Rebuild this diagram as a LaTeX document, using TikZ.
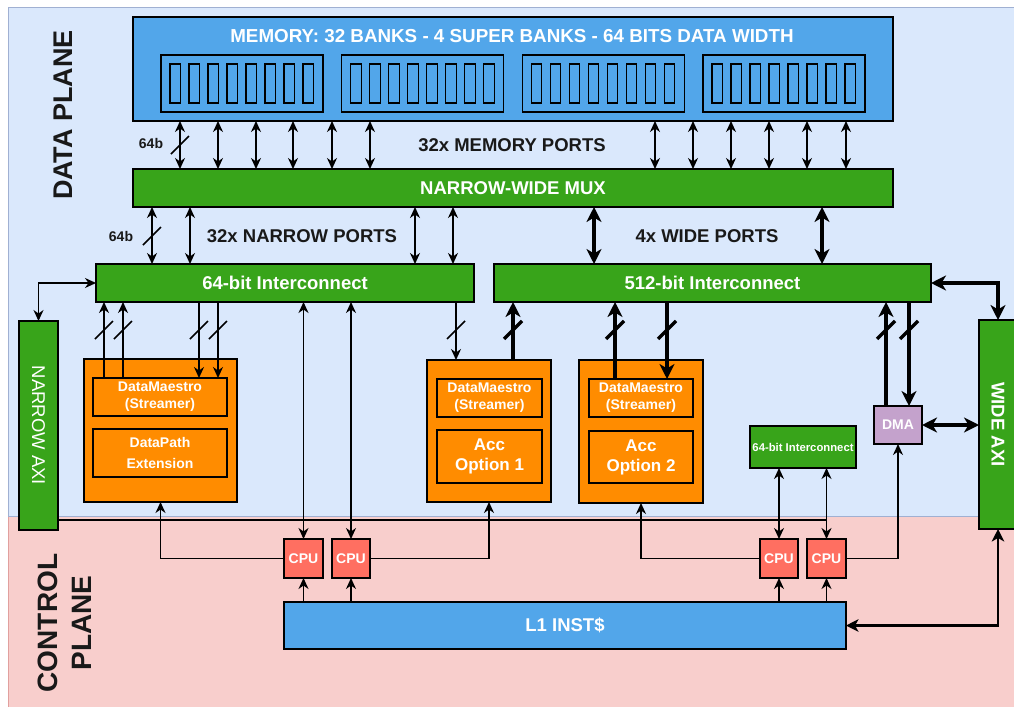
\documentclass[tikz,border=0pt]{standalone}
\usepackage{fontspec}
\setmainfont{Liberation Sans}
\usetikzlibrary{arrows.meta}
\definecolor{memblue}{RGB}{82,166,234}
\definecolor{dgreen}{RGB}{56,164,26}
\definecolor{accorange}{RGB}{255,140,0}
\definecolor{cpured}{RGB}{255,111,97}
\definecolor{dmapurple}{RGB}{196,162,204}
\definecolor{dpbg}{RGB}{218,232,252}
\definecolor{cpbg}{RGB}{248,206,204}
\definecolor{dpline}{RGB}{160,176,210}
\definecolor{cpline}{RGB}{225,160,158}
\newcommand\drbox[7]{\node[#2, minimum width={#5-#3}, minimum height={#6-#4}] (#1) at ({(#3+#5)/2},{(#4+#6)/2}) {#7};}
\newcommand\slashmark[3]{\draw[line width=#1] ({#2-9},{#3+9}) -- ({#2+9},{#3-9});}
\tikzset{
  thinhead/.tip={Stealth[length=11pt,width=10pt,inset=3.5pt]},
  thickhead/.tip={Stealth[length=15pt,width=15pt,inset=4.5pt]},
  medhead/.tip={Stealth[length=12.5pt,width=12.5pt,inset=3.5pt]},
}
\begin{document}
\begin{tikzpicture}[x=1pt,y=-1pt,
  box/.style={draw=black, line width=1.5pt, inner sep=0pt, outer sep=0pt, align=center, text=white, font=\bfseries\fontsize{18.5}{21}\selectfont},
  gbox/.style={box, fill=dgreen},
  obox/.style={box, fill=accorange},
  sbox/.style={box, fill=accorange, font=\bfseries\fontsize{14}{17}\selectfont},
  cbox/.style={box, fill=cpured, font=\bfseries\fontsize{14}{17}\selectfont},
  lbl/.style={inner sep=0pt, text=black!90, font=\bfseries\fontsize{18.5}{21}\selectfont},
  slbl/.style={inner sep=0pt, text=black!90, font=\bfseries\fontsize{14}{16}\selectfont},
  arrTT/.style={line width=1.5pt, thinhead-thinhead},
  arrT/.style={line width=1.5pt, -thinhead},
  arrKK/.style={line width=3.8pt, thickhead-thickhead},
  arrK/.style={line width=3.8pt, -thickhead},
  arrMM/.style={line width=2.2pt, medhead-medhead},
]
\useasboundingbox (0,0) rectangle (1014,707);
% planes
\fill[dpbg] (8,7) rectangle (1014,516);
\fill[cpbg] (8,516) rectangle (1014,707);
\draw[dpline, line width=0.8pt] (1014,7) -- (8,7) -- (8,516) -- (1014,516);
\draw[cpline, line width=0.8pt] (8,517) -- (8,707);

\node[rotate=90, inner sep=0pt, text=black!90, font=\bfseries\fontsize{27}{30}\selectfont] (dplabel) at (63.5,115) {DATA PLANE};
\node[rotate=90, inner sep=0pt, align=center, text=black!90, font=\bfseries\fontsize{28}{34.5}\selectfont] (cplabel) at (64.5,623) {CONTROL\\PLANE};

% memory
\drbox{mem}{box, fill=memblue}{133}{17}{893}{121}{}
\node[inner sep=0pt, text=white, font=\bfseries\fontsize{18.8}{21}\selectfont] (memtitle) at (512,36) {MEMORY: 32 BANKS - 4 SUPER BANKS - 64 BITS DATA WIDTH};
\foreach \i in {0,...,3} {
  \pgfmathsetmacro\sx{161+180.67*\i}
  \draw[line width=1.3pt] (\sx,55) rectangle ({\sx+162},112);
  \foreach \j in {0,...,7} {
    \draw[line width=1.2pt] ({\sx+9+19*\j},64) rectangle ++(10.5,39);
  }
}

% mux and interconnects
\drbox{mux}{gbox}{133}{169}{893}{207}{NARROW-WIDE MUX}
\drbox{icA}{gbox}{96}{264}{474}{302}{64-bit Interconnect}
\drbox{icB}{gbox}{494}{264}{931}{302}{512-bit Interconnect}
\drbox{naxi}{gbox}{19}{321}{58}{530}{\rotatebox{-90}{\mdseries NARROW AXI}}
\drbox{waxi}{gbox}{979}{320}{1017}{529}{\rotatebox{-90}{WIDE AXI}}

% accelerators
\drbox{accA}{obox}{84}{359}{237}{502}{}
\drbox{dmA}{sbox}{93}{378}{227}{416}{DataMaestro\\(Streamer)}
\drbox{dpA}{sbox, font=\bfseries\fontsize{14}{21}\selectfont}{93}{429}{227}{477}{DataPath\\Extension}
\drbox{accB}{obox}{427}{360}{551}{502}{}
\drbox{dmB}{sbox}{437}{379}{542}{417}{DataMaestro\\(Streamer)}
\drbox{opB}{obox, font=\bfseries\fontsize{17}{20}\selectfont}{437}{430}{542}{483}{Acc\\Option 1}
\drbox{accC}{obox}{579}{360}{703}{503}{}
\drbox{dmC}{sbox}{589}{379}{693}{417}{DataMaestro\\(Streamer)}
\drbox{opC}{obox, font=\bfseries\fontsize{17}{20}\selectfont}{589}{431}{693}{483}{Acc\\Option 2}

\drbox{icS}{gbox, font=\bfseries\fontsize{11.3}{13}\selectfont}{750}{426}{856}{468}{64-bit Interconnect}
\drbox{dma}{box, fill=dmapurple, font=\bfseries\fontsize{14}{17}\selectfont}{874}{406}{922}{444}{DMA}

% control plane
\drbox{cpuA}{cbox}{284}{539}{323}{578}{CPU}
\drbox{cpuB}{cbox}{332}{539}{370}{578}{CPU}
\drbox{cpuC}{cbox}{760}{539}{798}{578}{CPU}
\drbox{cpuD}{cbox}{807}{539}{846}{578}{CPU}
\drbox{lone}{box, fill=memblue}{284}{602}{846}{649}{L1 INST\$}

% labels
\node[lbl] (lmp) at (512,145) {32x MEMORY PORTS};
\node[slbl] (l64a) at (151,143) {64b};
\node[slbl] (l64b) at (121,236) {64b};
\node[lbl] (lnp) at (302,236) {32x NARROW PORTS};
\node[lbl] (lwp) at (707,236) {4x WIDE PORTS};

% memory ports
\foreach \x in {180,218,256,293,332,370,655,693,731,769,807,846}
  \draw[arrTT] (mem.south -| \x,0) -- (mux.north -| \x,0);
\slashmark{1.5pt}{180}{145}
% narrow ports
\foreach \x in {152,190,415,453}
  \draw[arrTT] (mux.south -| \x,0) -- (icA.north -| \x,0);
\slashmark{1.5pt}{152}{236}
% wide ports
\foreach \x in {594,822}
  \draw[arrKK] (mux.south -| \x,0) -- (icB.north -| \x,0);

% narrow axi / wide axi links
\draw[arrTT] (icA.west) -| (naxi.north);
\draw[arrKK] (icB.east) -| (waxi.north);

% left accelerator
\foreach \x in {104,123} {
  \draw[arrT] (dmA.north -| \x,0) -- (icA.south -| \x,0);
  \slashmark{1.5pt}{\x}{330}
}
\foreach \x in {199,218} {
  \draw[arrT] (icA.south -| \x,0) -- (dmA.north -| \x,0);
  \slashmark{1.5pt}{\x}{330}
}
% acc option 1
\draw[arrT] (icA.south -| 456,0) -- (accB.north -| 456,0);
\slashmark{1.5pt}{456}{330}
\draw[arrK] (accB.north -| 513,0) -- (icB.south -| 513,0);
\slashmark{3.5pt}{513}{330}
% acc option 2
\draw[arrK] (dmC.north -| 615,0) -- (icB.south -| 615,0);
\slashmark{3.5pt}{615}{330}
\draw[arrK] (icB.south -| 667,0) -- (dmC.north -| 667,0);
\slashmark{3.5pt}{667}{330}
% dma
\draw[arrK] (dma.north -| 886,0) -- (icB.south -| 886,0);
\slashmark{3.5pt}{886}{330}
\draw[arrK] (icB.south -| 909,0) -- (dma.north -| 909,0);
\slashmark{3.5pt}{909}{330}
\draw[arrKK] (dma.east) -- (waxi.west |- dma.east);

% narrow axi to cpu line
\coordinate (jn) at (cpuD.north |- 0,520);
\draw[line width=2pt] (naxi.east |- 0,520) -- (jn);

% interconnect to cpus
\draw[arrTT] (icA.south -| cpuA.north) -- (cpuA.north);
\draw[arrTT] (icA.south -| cpuB.north) -- (cpuB.north);
\draw[arrTT] (icS.south -| cpuC.north) -- (cpuC.north);
\draw[arrTT] (icS.south -| cpuD.north) -- (cpuD.north);

% cpus to accelerators
\draw[arrT] (cpuA.west) -| (accA.south);
\draw[arrT] (cpuB.east) -| (accB.south);
\draw[arrT] (cpuC.west) -| (accC.south);
\draw[arrT] (cpuD.east) -| (dma.south);

% L1 to cpus
\foreach \c in {cpuA,cpuB,cpuC,cpuD}
  \draw[arrT] (lone.north -| \c.south) -- (\c.south);
\draw[arrMM] (lone.east) -| (waxi.south);
\end{tikzpicture}
\end{document}
